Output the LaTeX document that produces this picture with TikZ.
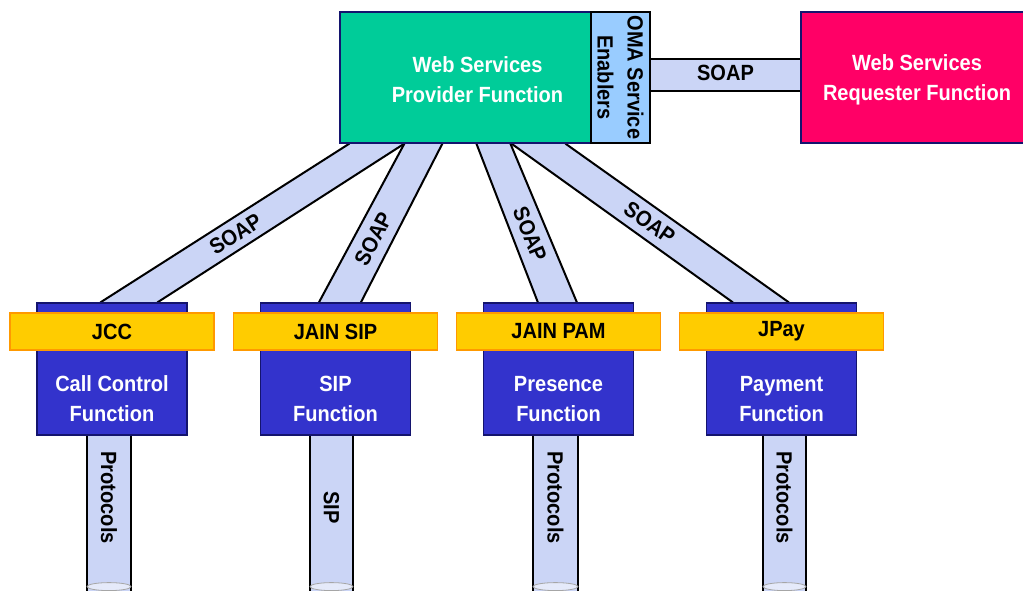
\documentclass[tikz,border=0pt]{standalone}
\usepackage{fontspec}
\setmainfont[FakeStretch=0.91]{Liberation Sans}
\usepackage{tikz}
\usetikzlibrary{calc, backgrounds}
\definecolor{provgreen}{HTML}{00CC99}
\definecolor{omablue}{HTML}{99CCFF}
\definecolor{reqred}{HTML}{FF0066}
\definecolor{fnblue}{HTML}{3333CC}
\definecolor{apiyellow}{HTML}{FFCC00}
\definecolor{apiorange}{HTML}{FF9900}
\definecolor{pipeblue}{HTML}{CBD5F6}
\definecolor{navy}{HTML}{14146E}

\begin{document}
\begin{tikzpicture}[x=1pt, y=-1pt,
    every node/.style={font=\fontsize{22}{30}\selectfont\bfseries, align=center},
    wsbox/.style={draw=navy, line width=1.2pt, inner sep=0pt},
    fnbox/.style={wsbox, fill=fnblue, minimum width=150pt, minimum height=132pt},
    apibar/.style={draw=apiorange, line width=1.2pt, fill=apiyellow, minimum width=204pt, minimum height=37pt, inner sep=0pt},
    pipe/.style={fill=pipeblue},
    pipeedge/.style={draw=black, line width=2pt},
    tubeedge/.style={draw=black, line width=2.6pt},
    tubeend/.style={draw=gray!70, fill=pipeblue!50, line width=0.8pt}]
    \useasboundingbox (0,0) rectangle (1023,590);

    % Top boxes
    \node [wsbox, fill=provgreen, minimum width=251pt, minimum height=131pt] (prov) at (465.5,77.5) {};
    \node [text=white] (provtext) at ($(prov)+(12,2)$) {Web Services\\Provider Function};
    \node [wsbox, draw=black, fill=omablue, minimum width=59pt, minimum height=131pt] (oma) at (620.5,77.5) {};
    \node [rotate=-90] (omatext) at (oma) {OMA Service\\Enablers};
    \node [wsbox, fill=reqred, minimum width=232pt, minimum height=131pt] (req) at (917,77.5) {};
    \node [text=white] (reqtext) at ($(req)+(0,2)$) {Web Services\\Requester Function};

    % Function boxes
    \node [fnbox] (cc) at (112,369) {};
    \node [fnbox] (sip) at (335.5,369) {};
    \node [fnbox] (pres) at (558.5,369) {};
    \node [fnbox] (pay) at (781.5,369) {};
    \node [text=white] (cctext) at ($(cc)+(0,30)$) {Call Control\\Function};
    \node [text=white] (siptext) at ($(sip)+(0,30)$) {SIP\\Function};
    \node [text=white] (prestext) at ($(pres)+(0,30)$) {Presence\\Function};
    \node [text=white] (paytext) at ($(pay)+(0,30)$) {Payment\\Function};

    % API bars
    \node [apibar] (jcc) at ($(cc)+(0,-37.5)$) {JCC};
    \node [apibar] (jsip) at ($(sip)+(0,-37.5)$) {JAIN SIP};
    \node [apibar] (jpam) at ($(pres)+(0,-37.5)$) {JAIN PAM};
    \node [apibar] (jpay) at ($(pay)+(0,-37.5)$) {JPay};

    \begin{scope}[on background layer]
        % SOAP to requester
        \coordinate (h1) at ($(oma.east)+(0,-18.5)$);
        \coordinate (h2) at ($(oma.east)+(0,13.5)$);
        \fill [pipe] (h1) rectangle (req.west |- h2);
        \draw [pipeedge] (h1) -- (req.west |- h1) (h2) -- (req.west |- h2);
        \path (h1) -- (req.west |- h1) node [midway, below=3pt] {SOAP};

        % SOAP to call control
        \coordinate (s1a) at ($(prov.south west)+(10,0)$);
        \coordinate (s1b) at ($(prov.south west)+(65,0)$);
        \coordinate (s1c) at ($(cc.north west)+(121,0)$);
        \coordinate (s1d) at ($(cc.north west)+(64,0)$);
        \fill [pipe] (s1a) -- (s1b) -- (s1c) -- (s1d) -- cycle;
        \draw [pipeedge] (s1a) -- (s1d) (s1b) -- (s1c);
        \path ($(s1a)!0.5!(s1b)$) -- ($(s1d)!0.5!(s1c)$) node [pos=0.57, sloped] {SOAP};

        % SOAP to SIP
        \coordinate (s2a) at ($(prov.south west)+(65,0)$);
        \coordinate (s2b) at ($(prov.south west)+(103,0)$);
        \coordinate (s2c) at ($(sip.north west)+(101,0)$);
        \coordinate (s2d) at ($(sip.north west)+(59,0)$);
        \fill [pipe] (s2a) -- (s2b) -- (s2c) -- (s2d) -- cycle;
        \draw [pipeedge] (s2a) -- (s2d) (s2b) -- (s2c);
        \path ($(s2a)!0.5!(s2b)$) -- ($(s2d)!0.5!(s2c)$) node [pos=0.6, sloped] {SOAP};

        % SOAP to presence
        \coordinate (s3a) at ($(prov.south west)+(137,0)$);
        \coordinate (s3b) at ($(prov.south west)+(171,0)$);
        \coordinate (s3c) at ($(pres.north west)+(94,0)$);
        \coordinate (s3d) at ($(pres.north west)+(55,0)$);
        \fill [pipe] (s3a) -- (s3b) -- (s3c) -- (s3d) -- cycle;
        \draw [pipeedge] (s3a) -- (s3d) (s3b) -- (s3c);
        \path ($(s3a)!0.5!(s3b)$) -- ($(s3d)!0.5!(s3c)$) node [pos=0.57, sloped] {SOAP};

        % SOAP to payment
        \coordinate (s4a) at ($(prov.south west)+(172,0)$);
        \coordinate (s4b) at ($(prov.south west)+(226,0)$);
        \coordinate (s4c) at ($(pay.north west)+(83,0)$);
        \coordinate (s4d) at ($(pay.north west)+(27,0)$);
        \fill [pipe] (s4a) -- (s4b) -- (s4c) -- (s4d) -- cycle;
        \draw [pipeedge] (s4a) -- (s4d) (s4b) -- (s4c);
        \path ($(s4a)!0.5!(s4b)$) -- ($(s4d)!0.5!(s4c)$) node [pos=0.5, sloped] {SOAP};

        % Protocol tubes
        \fill [pipe] ($(cc.south)+(-25,0)$) rectangle ($(cc.south)+(19,160)$);
        \draw [tubeedge] ($(cc.south)+(-25,0)$) -- ++(0,160) ($(cc.south)+(19,0)$) -- ++(0,160);
        \draw [tubeend] ($(cc.south)+(-3,151)$) ellipse [x radius=22, y radius=4];
        \node [rotate=-90] (cctube) at ($(cc.south)+(-3,62)$) {Protocols};

        \fill [pipe] ($(sip.south)+(-25.5,0)$) rectangle ($(sip.south)+(17.5,160)$);
        \draw [tubeedge] ($(sip.south)+(-25.5,0)$) -- ++(0,160) ($(sip.south)+(17.5,0)$) -- ++(0,160);
        \draw [tubeend] ($(sip.south)+(-4,151)$) ellipse [x radius=21.5, y radius=4];
        \node [rotate=-90] (siptube) at ($(sip.south)+(-4,72)$) {SIP};

        \fill [pipe] ($(pres.south)+(-25.5,0)$) rectangle ($(pres.south)+(19.5,160)$);
        \draw [tubeedge] ($(pres.south)+(-25.5,0)$) -- ++(0,160) ($(pres.south)+(19.5,0)$) -- ++(0,160);
        \draw [tubeend] ($(pres.south)+(-3,151)$) ellipse [x radius=22.5, y radius=4];
        \node [rotate=-90] (prestube) at ($(pres.south)+(-3,62)$) {Protocols};

        \fill [pipe] ($(pay.south)+(-18.5,0)$) rectangle ($(pay.south)+(24.5,160)$);
        \draw [tubeedge] ($(pay.south)+(-18.5,0)$) -- ++(0,160) ($(pay.south)+(24.5,0)$) -- ++(0,160);
        \draw [tubeend] ($(pay.south)+(3,151)$) ellipse [x radius=21.5, y radius=4];
        \node [rotate=-90] (paytube) at ($(pay.south)+(3,62)$) {Protocols};
    \end{scope}
\end{tikzpicture}
\end{document}
